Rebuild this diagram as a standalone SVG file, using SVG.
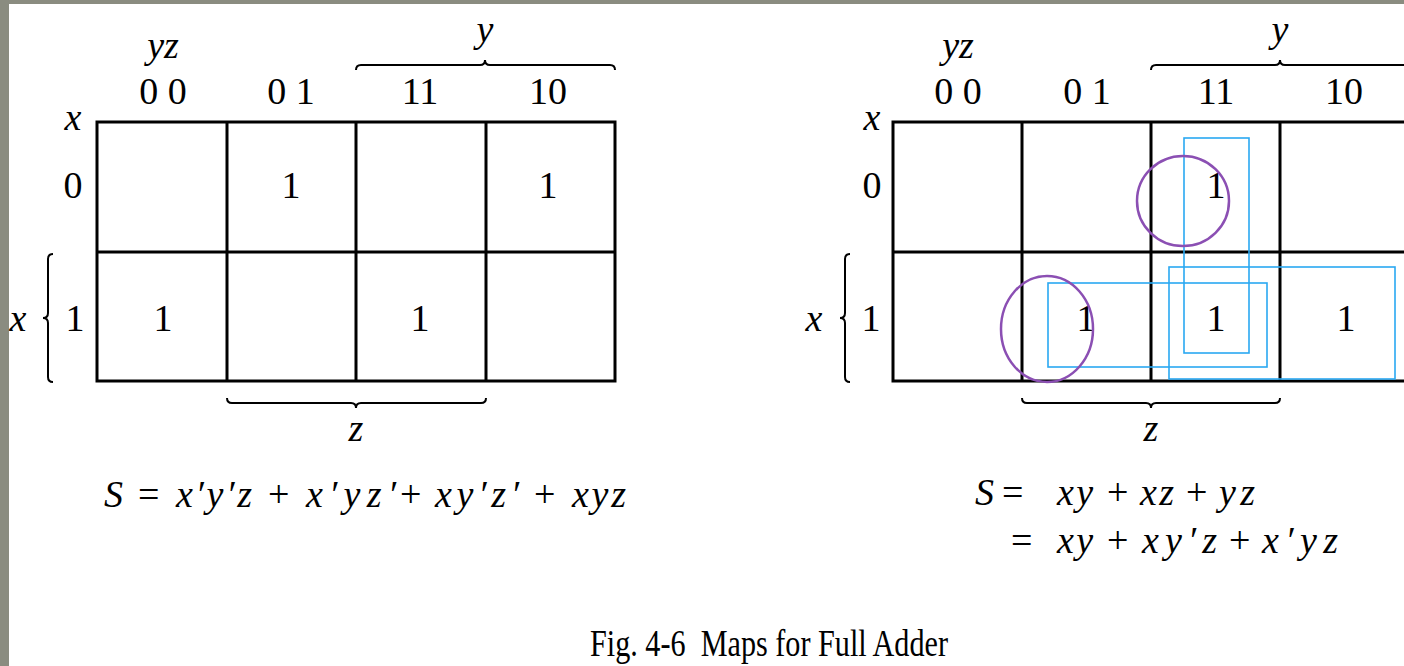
<svg xmlns="http://www.w3.org/2000/svg" width="1404" height="666" viewBox="0 0 1404 666">
<style>
.t{font-family:"Liberation Serif","Times New Roman",serif;font-size:38px;fill:#000}
.e{font-family:"Liberation Serif","Times New Roman",serif;font-size:38px;fill:#000}
.i{font-style:italic}
.m{text-anchor:middle}
.g{fill:none;stroke:#000;stroke-width:3}
.br{fill:none;stroke:#000;stroke-width:2}
.c{fill:none;stroke:#8b4fb3;stroke-width:2.5}
.b{fill:none;stroke:#2aa8f2;stroke-width:1.6}
</style>
<rect x="0" y="0" width="1404" height="666" fill="#8a8c80"/>
<rect x="9" y="4" width="1395" height="662" fill="#fff"/>

<g id="map-left">
  <rect class="g" x="97" y="122" width="518" height="259"/>
  <line class="g" x1="227" y1="122" x2="227" y2="381"/>
  <line class="g" x1="356" y1="122" x2="356" y2="381"/>
  <line class="g" x1="486" y1="122" x2="486" y2="381"/>
  <line class="g" x1="97" y1="252" x2="615" y2="252"/>
  <text class="t i m" x="163" y="58">yz</text>
  <text class="t m" x="163" y="104">0 0</text>
  <text class="t m" x="291" y="104">0 1</text>
  <text class="t m" x="420" y="104">11</text>
  <text class="t m" x="548" y="104">10</text>
  <text class="t i m" x="485" y="42">y</text>
  <path class="br" d="M356,70 q0,-5 5,-5 L480,65 q5,0 5,-5 q0,5 5,5 L610,65 q5,0 5,5"/>
  <text class="t i m" x="73" y="130">x</text>
  <text class="t m" x="73" y="198">0</text>
  <text class="t m" x="75" y="331">1</text>
  <text class="t i m" x="18" y="331">x</text>
  <path class="br" d="M53,254 q-5,0 -5,5 L48,313 q0,5 -5,5 q5,0 5,5 L48,377 q0,5 5,5"/>
  <path class="br" d="M227,398 q0,5 5,5 L351,403 q5,0 5,5 q0,-5 5,-5 L481,403 q5,0 5,-5"/>
  <text class="t i m" x="356" y="441">z</text>
  <text class="t m" x="291" y="198">1</text>
  <text class="t m" x="548" y="198">1</text>
  <text class="t m" x="163" y="331">1</text>
  <text class="t m" x="420" y="331">1</text>
  <g id="eq-left">
    <text class="e i" x="104" y="507">S</text>
    <text class="e" x="138" y="507">=</text>
    <text class="e i" x="176" y="507" textLength="76" lengthAdjust="spacing">x′y′z</text>
    <text class="e" x="268" y="507">+</text>
    <text class="e i" x="306" y="507" textLength="90" lengthAdjust="spacing">x′yz′</text>
    <text class="e" x="400" y="507">+</text>
    <text class="e i" x="435" y="507" textLength="84" lengthAdjust="spacing">xy′z′</text>
    <text class="e" x="534" y="507">+</text>
    <text class="e i" x="572" y="507" textLength="54" lengthAdjust="spacing">xyz</text>
  </g>
</g>

<g id="map-right">
  <rect class="g" x="893" y="122" width="516" height="259"/>
  <line class="g" x1="1022" y1="122" x2="1022" y2="381"/>
  <line class="g" x1="1151" y1="122" x2="1151" y2="381"/>
  <line class="g" x1="1280" y1="122" x2="1280" y2="381"/>
  <line class="g" x1="893" y1="252" x2="1409" y2="252"/>
  <text class="t i m" x="958" y="58">yz</text>
  <text class="t m" x="958" y="104">0 0</text>
  <text class="t m" x="1087" y="104">0 1</text>
  <text class="t m" x="1216" y="104">11</text>
  <text class="t m" x="1344" y="104">10</text>
  <text class="t i m" x="1280" y="42">y</text>
  <path class="br" d="M1151,70 q0,-5 5,-5 L1275,65 q5,0 5,-5 q0,5 5,5 L1404,65 q5,0 5,5"/>
  <text class="t i m" x="872" y="130">x</text>
  <text class="t m" x="872" y="198">0</text>
  <text class="t m" x="871" y="331">1</text>
  <text class="t i m" x="814" y="331">x</text>
  <path class="br" d="M850,254 q-5,0 -5,5 L845,313 q0,5 -5,5 q5,0 5,5 L845,377 q0,5 5,5"/>
  <path class="br" d="M1022,398 q0,5 5,5 L1146,403 q5,0 5,5 q0,-5 5,-5 L1275,403 q5,0 5,-5"/>
  <text class="t i m" x="1151" y="441">z</text>
  <text class="t m" x="1216" y="198">1</text>
  <text class="t m" x="1086" y="331">1</text>
  <text class="t m" x="1216" y="331">1</text>
  <text class="t m" x="1346" y="331">1</text>
  <rect class="b" x="1184" y="138" width="65" height="215"/>
  <rect class="b" x="1048" y="283" width="219" height="84"/>
  <rect class="b" x="1169" y="267" width="226" height="112"/>
  <ellipse class="c" cx="1183" cy="201" rx="46" ry="45"/>
  <ellipse class="c" cx="1047" cy="329" rx="46" ry="53"/>
  <g id="eq-right">
    <text class="e i" x="975" y="505">S</text>
    <text class="e" x="1002" y="505">=</text>
    <text class="e i" x="1057" y="505" textLength="36" lengthAdjust="spacing">xy</text>
    <text class="e" x="1107" y="505">+</text>
    <text class="e i" x="1140" y="505" textLength="34" lengthAdjust="spacing">xz</text>
    <text class="e" x="1186" y="505">+</text>
    <text class="e i" x="1219" y="505" textLength="36" lengthAdjust="spacing">yz</text>
    <text class="e" x="1011" y="553">=</text>
    <text class="e i" x="1057" y="553" textLength="36" lengthAdjust="spacing">xy</text>
    <text class="e" x="1107" y="553">+</text>
    <text class="e i" x="1142" y="553" textLength="75" lengthAdjust="spacing">xy′z</text>
    <text class="e" x="1229" y="553">+</text>
    <text class="e i" x="1262" y="553" textLength="76" lengthAdjust="spacing">x′yz</text>
  </g>
</g>

<text id="caption" class="t" x="590" y="656" font-size="34" textLength="358" lengthAdjust="spacingAndGlyphs" xml:space="preserve">Fig. 4-6  Maps for Full Adder</text>
</svg>
